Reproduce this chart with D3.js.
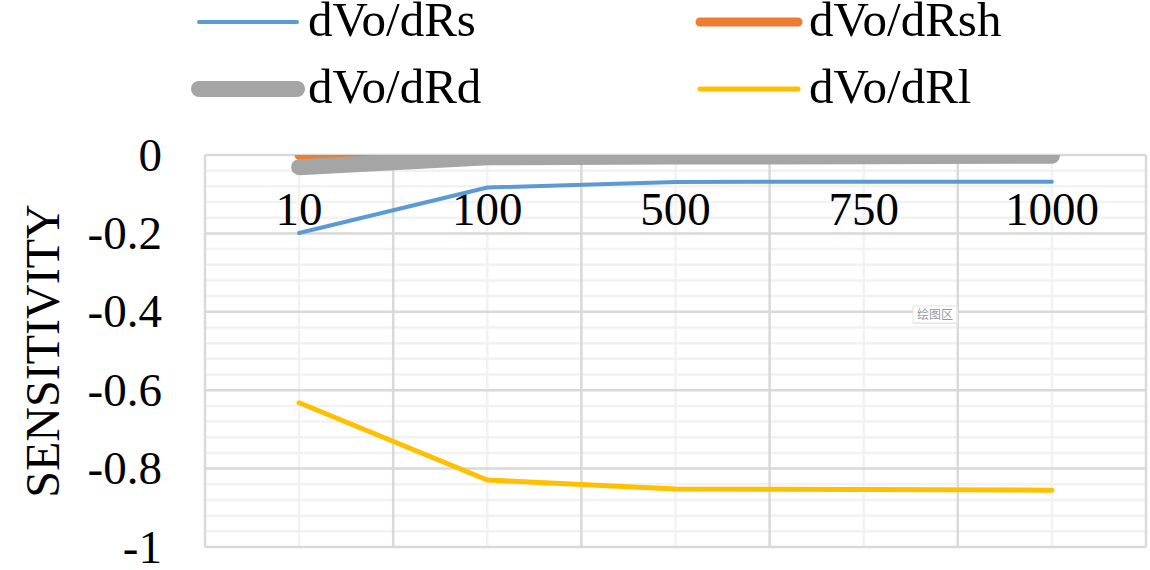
<!DOCTYPE html>
<html>
<head>
<meta charset="utf-8">
<script src="https://cdn.jsdelivr.net/npm/d3@7"></script>
<style>
  body { margin: 0; background: #fff; }
  svg { display: block; }
  text { font-family: "Liberation Serif", "Times New Roman", serif; fill: #000; }
</style>
</head>
<body>
<div id="chart"></div>
<script>
const width = 1150;
const height = 570;

// data
const categories = ["10", "100", "500", "750", "1000"];
const dRs  = [-0.199, -0.083, -0.069, -0.068, -0.068];
const dRsh = [-0.001, -0.001, -0.001, -0.001, -0.001];
const dRd  = [-0.031, -0.006, -0.004, -0.003, -0.002];
const dRl  = [-0.632, -0.829, -0.852, -0.853, -0.855];
const seriesNames = ["dVo/dRs", "dVo/dRsh", "dVo/dRd", "dVo/dRl"];
const yTicks = [0, -0.2, -0.4, -0.6, -0.8, -1];
const yTickLabels = ["0", "-0.2", "-0.4", "-0.6", "-0.8", "-1"];

const series = [
    { name: seriesNames[0], values: dRs,  color: "#5b9bd5", w: 4 },
    { name: seriesNames[1], values: dRsh, color: "#ed7d31", w: 9 },
    { name: seriesNames[2], values: dRd,  color: "#a5a5a5", w: 16 },
    { name: seriesNames[3], values: dRl,  color: "#ffc000", w: 5 }
];

const plot = { left: 205, right: 1146, top: 155, bottom: 547 };

const svg = d3.select("#chart")
    .append("svg")
    .attr("width", width)
    .attr("height", height);

const x = d3.scaleBand()
    .domain(categories)
    .range([plot.left, plot.right])
    .padding(0);

const y = d3.scaleLinear()
    .domain([-1, 0])
    .range([plot.bottom, plot.top]);

const cx = d => x(d) + x.bandwidth() / 2;

// minor horizontal gridlines
const minor = d3.range(0, 26).map(i => -i * 0.04).filter(v => Math.abs(Math.round(v / 0.2) * 0.2 - v) > 1e-6);
svg.append("g").selectAll("line")
    .data(minor)
    .join("line")
    .attr("x1", plot.left).attr("x2", plot.right)
    .attr("y1", d => y(d)).attr("y2", d => y(d))
    .attr("stroke", "#f2f2f2").attr("stroke-width", 2.5);

// minor vertical gridlines at category centres
svg.append("g").selectAll("line")
    .data(categories)
    .join("line")
    .attr("x1", d => cx(d)).attr("x2", d => cx(d))
    .attr("y1", plot.top).attr("y2", plot.bottom)
    .attr("stroke", "#f2f2f2").attr("stroke-width", 2.5);

// major horizontal gridlines
svg.append("g").selectAll("line")
    .data(yTicks)
    .join("line")
    .attr("x1", plot.left).attr("x2", plot.right)
    .attr("y1", d => y(d)).attr("y2", d => y(d))
    .attr("stroke", "#d9d9d9").attr("stroke-width", 2.5);

// major vertical gridlines at category edges
const edges = categories.map(d => x(d)).concat([plot.right]);
svg.append("g").selectAll("line")
    .data(edges)
    .join("line")
    .attr("x1", d => d).attr("x2", d => d)
    .attr("y1", plot.top).attr("y2", plot.bottom)
    .attr("stroke", "#d9d9d9").attr("stroke-width", 2.5);

// y axis labels
const yAxis = d3.axisLeft(y)
    .tickValues(yTicks)
    .tickSize(0)
    .tickPadding(43)
    .tickFormat((d, i) => yTickLabels[i]);
svg.append("g")
    .attr("transform", `translate(${plot.left},0)`)
    .call(yAxis)
    .call(g => g.select(".domain").remove())
    .selectAll("text")
    .attr("font-size", 47);

// x axis labels (axis crosses at 0, the top)
const xAxis = d3.axisBottom(x).tickSize(0).tickPadding(0);
svg.append("g")
    .attr("transform", `translate(0,${y(0)})`)
    .call(xAxis)
    .call(g => g.select(".domain").remove())
    .selectAll("text")
    .attr("y", 70)
    .attr("dy", 0)
    .attr("font-size", 47);

// y title
svg.append("text")
    .attr("transform", `translate(59,351) rotate(-90)`)
    .attr("text-anchor", "middle")
    .attr("font-size", 48)
    .text("SENSITIVITY");

// lines, clipped to the plot area
svg.append("clipPath").attr("id", "clip")
    .append("rect")
    .attr("x", plot.left).attr("y", plot.top)
    .attr("width", plot.right - plot.left)
    .attr("height", plot.bottom - plot.top);

const line = d3.line()
    .x((d, i) => cx(categories[i]))
    .y(d => y(d));

svg.append("g")
    .attr("clip-path", "url(#clip)")
    .selectAll("path")
    .data(series)
    .join("path")
    .attr("d", d => line(d.values))
    .attr("fill", "none")
    .attr("stroke", d => d.color)
    .attr("stroke-width", d => d.w)
    .attr("stroke-linecap", "round")
    .attr("stroke-linejoin", "round");

// legend
const legendPos = [
    { x: 199, y: 22 },
    { x: 700, y: 22 },
    { x: 199, y: 89 },
    { x: 700, y: 89 }
];
const legend = svg.append("g").selectAll("g")
    .data(series)
    .join("g")
    .attr("transform", (d, i) => `translate(${legendPos[i].x},${legendPos[i].y})`);
legend.append("line")
    .attr("x1", 0).attr("x2", 98)
    .attr("stroke", d => d.color)
    .attr("stroke-width", d => d.w)
    .attr("stroke-linecap", "round");
legend.append("text")
    .attr("x", 109)
    .attr("y", 14)
    .attr("font-size", 49)
    .text(d => d.name);

// leftover plot-area tooltip from the source screenshot
const tip = svg.append("g").attr("transform", "translate(913,306)");
tip.append("rect")
    .attr("x", 1).attr("y", 1)
    .attr("width", 44).attr("height", 17)
    .attr("fill", "#e6e6e6");
tip.append("rect")
    .attr("width", 44).attr("height", 17)
    .attr("fill", "#fff")
    .attr("stroke", "#e3e3e3")
    .attr("stroke-width", 1);
tip.append("text")
    .attr("x", 22).attr("y", 13)
    .attr("text-anchor", "middle")
    .attr("font-size", 12)
    .style("fill", "#9a9a9a")
    .style("font-family", "'Noto Sans CJK SC', sans-serif")
    .text("绘图区");
</script>
</body>
</html>
